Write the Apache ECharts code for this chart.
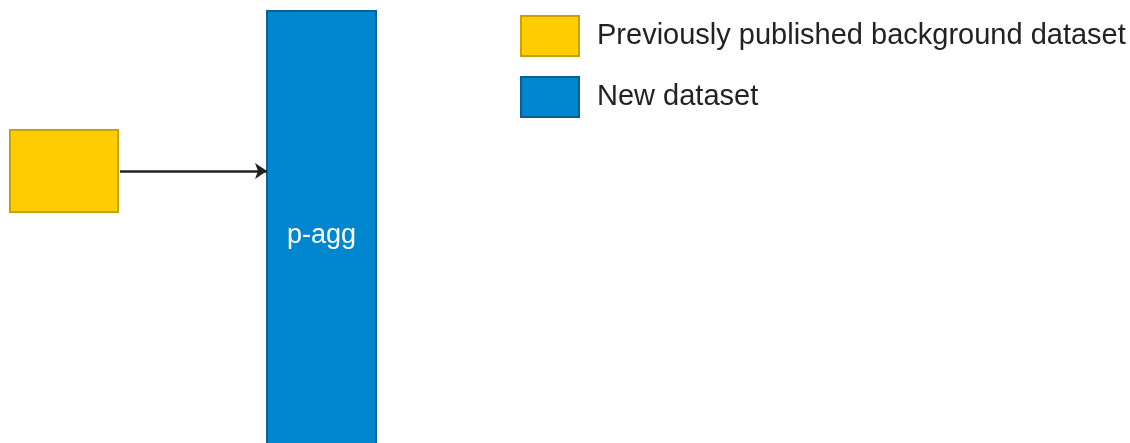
<!DOCTYPE html>
<html>
<head>
<meta charset="utf-8">
<script src="https://cdn.jsdelivr.net/npm/echarts@6/dist/echarts.min.js"></script>
<style>
  html, body { margin: 0; padding: 0; background: #fff; }
  #main { width: 1130px; height: 443px; }
</style>
</head>
<body>
<div id="main"></div>
<script>
    // boxes of the diagram (x/y in the hidden axes' units)
    const boxNames = ['Previously published background dataset', 'New dataset'];
    const boxLabels = ['', 'p-agg'];
    const boxLeft = [10, 267];
    const boxRight = [118, 376];
    const boxTop = [130, 11];
    const boxBottom = [212, 460];
    // edge between boxes
    const linkFrom = [[120, 171]];
    const linkTo = [[267, 171]];

    const fills = ['#ffcc00', '#0086cf'];
    const borders = ['#c9a200', '#0a5f95'];

    const chart = echarts.init(document.getElementById('main'));

    function boxSeries(i){
        return {
            name: boxNames[i],
            type: 'custom',
            data: [[boxLeft[i], boxRight[i], boxTop[i], boxBottom[i]]],
            itemStyle: { color: fills[i], borderColor: borders[i], borderWidth: 2 },
            renderItem: function (params, api) {
                const p0 = api.coord([api.value(0), api.value(2)]);
                const p1 = api.coord([api.value(1), api.value(3)]);
                return {
                    type: 'rect',
                    shape: { x: p0[0], y: p0[1], width: p1[0] - p0[0], height: p1[1] - p0[1] },
                    style: { fill: fills[i], stroke: borders[i], lineWidth: 2 },
                    textContent: {
                        style: { text: boxLabels[i], fill: '#fff', fontSize: 27, fontFamily: 'Liberation Sans, Arial, sans-serif' }
                    },
                    textConfig: { position: 'inside' }
                };
            }
        };
    }

    chart.setOption({
        animation: false,
        grid: { left: 0, right: 0, top: 0, bottom: 0 },
        xAxis: { type: 'value', min: 0, max: 1130, show: false },
        yAxis: { type: 'value', min: 0, max: 443, inverse: true, show: false },
        legend: {
            orient: 'vertical',
            left: 520,
            top: 15,
            padding: 0,
            itemWidth: 58,
            itemHeight: 40,
            itemGap: 19,
            icon: 'rect',
            textStyle: {
                fontSize: 29,
                color: '#222',
                fontFamily: 'Liberation Sans, Arial, sans-serif',
                padding: [0, 0, 0, 13]
            },
            data: boxNames.map(function (n, i) {
                return { name: n, itemStyle: { color: fills[i], borderColor: borders[i], borderWidth: 2 } };
            })
        },
        series: [
            boxSeries(0),
            boxSeries(1),
            {
                type: 'lines',
                coordinateSystem: 'cartesian2d',
                symbol: ['none', 'arrow'],
                symbolSize: 12,
                lineStyle: { color: '#222', width: 2.5, opacity: 1 },
                data: linkFrom.map(function (a, i) { return { coords: [a, linkTo[i]] }; })
            }
        ]
    });
</script>
</body>
</html>
